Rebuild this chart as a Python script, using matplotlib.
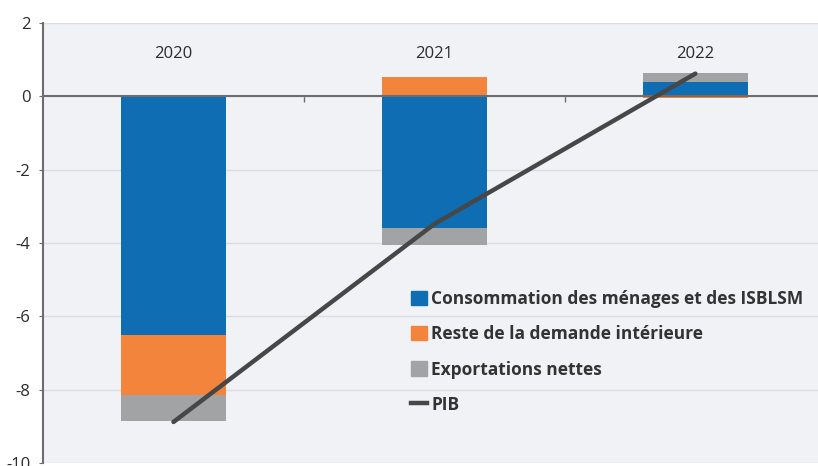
import numpy as np
import matplotlib.pyplot as plt
from matplotlib.patches import Patch
from matplotlib.lines import Line2D

plt.rcParams['font.family'] = ['Open Sans', 'DejaVu Sans']

# Données
annees = ['2020', '2021', '2022']
consommation = [-6.5, -3.6, 0.38]
reste_demande = [-1.65, 0.53, -0.05]
exportations = [-0.7, -0.45, 0.25]
pib = [-8.88, -3.48, 0.62]

bleu = '#0f6db3'
orange = '#f2843c'
gris = '#a2a3a5'
ligne = '#474747'

fig = plt.figure(figsize=(8.18, 4.66), dpi=100)
ax = fig.add_axes([0.0526, 0.0064, 0.9474, 0.9442])
ax.set_facecolor('#f1f2f5')

x = np.arange(len(annees))
larg = 0.4

# empilement séparé des positifs et négatifs
pos = np.zeros(len(x))
neg = np.zeros(len(x))
for vals, col in [(consommation, bleu), (reste_demande, orange), (exportations, gris)]:
    vals = np.array(vals)
    bas = np.where(vals >= 0, pos, neg)
    ax.bar(x, vals, larg, bottom=bas, color=col, zorder=2)
    pos = pos + np.where(vals >= 0, vals, 0)
    neg = neg + np.where(vals < 0, vals, 0)

ax.plot(x, pib, color=ligne, lw=3.2, solid_capstyle='round', zorder=4)

# étiquettes des années en haut
for xi, a in zip(x, annees):
    ax.text(xi, 1.15, a, ha='center', va='center', fontsize=12, color='#2b2b2b')

ax.set_xlim(-0.5, 2.47)
ax.set_ylim(-10, 2)
ax.set_yticks(np.arange(-10, 3, 2))
ax.set_yticklabels([str(v) for v in range(-10, 3, 2)])
ax.grid(axis='y', color='#dcdde0', lw=1, zorder=0)
ax.set_axisbelow(True)

ax.spines['top'].set_visible(False)
ax.spines['right'].set_visible(False)
ax.spines['left'].set_color('#6d6d6d')
ax.spines['left'].set_linewidth(1.5)
ax.spines['bottom'].set_position(('data', 0))
ax.spines['bottom'].set_color('#6d6d6d')
ax.spines['bottom'].set_linewidth(1.5)
ax.spines['bottom'].set_zorder(3)

ax.set_xticks([0.5, 1.5])
ax.set_xticklabels([])
ax.tick_params(axis='x', direction='out', length=4, color='#6d6d6d', width=1)
ax.tick_params(axis='y', length=3, color='#6d6d6d', pad=6, labelsize=12, labelcolor='#2b2b2b')

handles = [
    Patch(color=bleu, label='Consommation des ménages et des ISBLSM'),
    Patch(color=orange, label='Reste de la demande intérieure'),
    Patch(color=gris, label='Exportations nettes'),
    Line2D([], [], color=ligne, lw=3.2, label='PIB'),
]
leg = ax.legend(handles=handles, loc='upper left', bbox_to_anchor=(0.455, 0.429),
                frameon=False, handlelength=0.9, handleheight=0.9, handletextpad=0.25,
                labelspacing=1.0, prop={'weight': 'bold', 'size': 12.5})
for t in leg.get_texts():
    t.set_color('#333333')

fig.savefig('out.png', dpi=100)
